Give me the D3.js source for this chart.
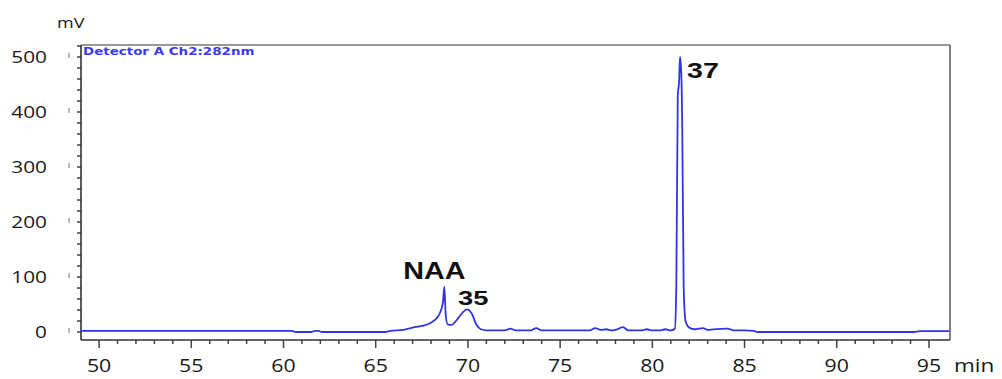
<!DOCTYPE html>
<html>
<head>
<meta charset="utf-8">
<script src="https://cdn.jsdelivr.net/npm/d3@7"></script>
<style>
body{margin:0;background:#fff}
svg{display:block}
</style>
</head>
<body>
<script>
// chromatogram, Detector A Ch2:282nm
const time=[49,60.4,60.7,61.5,61.7,61.9,62.1,65.5,65.8,66.5,67.0,67.5,68.0,68.3,68.5,68.65,68.72,68.8,68.9,69.1,69.4,69.7,69.95,70.2,70.45,70.7,71.0,72.0,72.3,72.6,73.4,73.7,74.0,76.6,76.9,77.2,77.5,77.8,78.1,78.4,78.7,79.4,79.7,80.0,80.4,80.7,81.0,81.22,81.3,81.38,81.45,81.5,81.57,81.62,81.7,81.8,82.0,82.3,82.75,83.0,83.3,84.1,84.4,85.0,85.5,85.7,94.2,94.5,96.1]
const signal=[2,2,0,0,2,2,0,0,2,4,8,11,17,25,36,55,82,30,14,13,22,35,41,34,14,5,3,3,6,3,3,7,3,3,7,4,5,3,5,9,3,3,5,3,3,5,3,6,85,430,455,500,470,380,80,20,8,5,7,4,5,6,3,3,2,0,0,1.5,1.5]
const peakNames=["NAA","35","37"]
const peakTimes=[68.72,69.95,81.5]
const peakValues=[82,41,500]
const xTicks=[50,55,60,65,70,75,80,85,90,95]
const yTicks=[0,100,200,300,400,500]

const W=1002,H=379
const m={l:81,r:950,t:45,b:340}
const svg=d3.select("body").append("svg").attr("width",W).attr("height",H)

const x=d3.scaleLinear().domain([49.02,96.14]).range([m.l,m.r])
const y=d3.scaleLinear().domain([-14.5,521.8]).range([m.b,m.t])

// stretched text helper (the picture is wider than tall)
function stext(g,str,px,py,size,sx,anchor,fam,weight,fill){
	const t=g.append("g").attr("transform","translate("+px+","+py+") scale("+sx+",1)")
	.append("text").text(str)
		.attr("font-family",fam).attr("font-size",size)
		.attr("font-weight",weight||"normal")
		.attr("text-anchor",anchor||"start")
		.attr("fill",fill||"#1a1a1a")
	return t
}

// x axis ticks + labels
const gx=svg.append("g")
gx.selectAll("line.mn").data(d3.range(50,96)).enter().append("line")
	.attr("x1",d=>x(d)).attr("x2",d=>x(d))
	.attr("y1",m.b).attr("y2",d=>d%5==0?m.b+8:m.b+4)
	.attr("stroke","#444").attr("stroke-width",1.5)
xTicks.forEach(v=>{
	stext(gx,v,x(v),372,19,1.12,"middle","Open Sans")
})
stext(gx,"min",954,372,18,1.25,"start","Open Sans")

// y axis ticks + labels
const gy=svg.append("g")
gy.selectAll("line.mn").data(d3.range(0,521,20)).enter().append("line")
	.attr("x1",m.l-4).attr("x2",m.l)
	.attr("y1",d=>y(d)).attr("y2",d=>y(d))
	.attr("stroke","#333").attr("stroke-width",1.4)
gy.selectAll("line.mj").data(yTicks).enter().append("line")
	.attr("x1",69).attr("x2",69)
	.attr("y1",d=>y(d)-4).attr("y2",d=>y(d)+1)
	.attr("stroke","#777").attr("stroke-width",1)
yTicks.forEach(v=>{
	stext(gy,v,47,y(v)+6,16,1.3,"end","Open Sans")
})
stext(gy,"mV",57,28,15,1.2,"start","Open Sans")

// frame
svg.append("line").attr("x1",m.l).attr("x2",m.r).attr("y1",m.t).attr("y2",m.t).attr("stroke","#999").attr("stroke-width",2.2)
svg.append("line").attr("x1",m.r).attr("x2",m.r).attr("y1",m.t).attr("y2",m.b).attr("stroke","#555").attr("stroke-width",1.5)
svg.append("line").attr("x1",m.l).attr("x2",m.r).attr("y1",m.b).attr("y2",m.b).attr("stroke","#333").attr("stroke-width",1.6)
svg.append("line").attr("x1",m.l).attr("x2",m.l).attr("y1",m.t).attr("y2",m.b).attr("stroke","#333").attr("stroke-width",1.6)

stext(svg,"Detector A Ch2:282nm",83,55,10.5,1.28,"start","DejaVu Sans","bold","#3a3aee")

// trace
const pts=time.map((t,i)=>[t,signal[i]])
const line=d3.line().x(d=>x(d[0])).y(d=>y(d[1])).curve(d3.curveMonotoneX)
svg.append("path").datum(pts).attr("d",line)
	.attr("fill","none").attr("stroke","#3333e6").attr("stroke-width",1.8)
	.attr("stroke-linejoin","round")

// peak labels
const off=[[-41,-8,23,1.25],[-9,-4,21,1.3],[7,21,22,1.3]]
peakNames.forEach((n,i)=>{
	stext(svg,n,x(peakTimes[i])+off[i][0],y(peakValues[i])+off[i][1],off[i][2],off[i][3],"start","Liberation Sans","bold","#111")
})
</script>
</body>
</html>
